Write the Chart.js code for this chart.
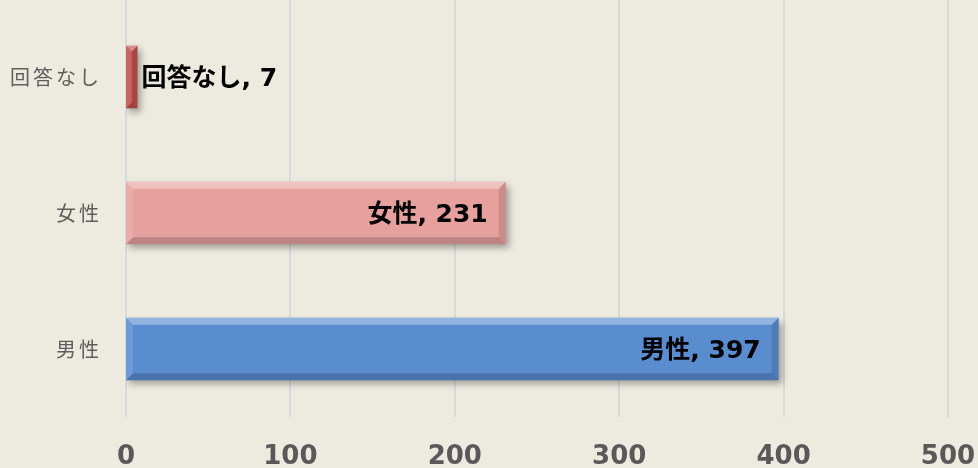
<!DOCTYPE html>
<html>
<head>
<meta charset="utf-8">
<script src="https://cdn.jsdelivr.net/npm/chart.js@4/dist/chart.umd.min.js"></script>
<style>
  html, body { margin: 0; padding: 0; background: #EDEAE0; }
  #wrap { width: 978px; height: 468px; position: relative; }
</style>
</head>
<body>
<div id="wrap"><canvas id="chart"></canvas></div>
<script>
const categories = ['回答なし', '女性', '男性'];
const counts = [7, 231, 397];
const barColors = ['#C0504D', '#E6A19F', '#5A8DD0'];
const xTicks = [0, 100, 200, 300, 400, 500];

const labelFont = 'bold 25px "DejaVu Sans", "Noto Sans CJK JP", sans-serif';

// letter spacing on the category labels only
const spacingPlugin = {
    id: 'spacing',
    beforeDraw(chart) {
        const ys = chart.scales.y;
        if (ys._spaced) return;
        const orig = ys.drawLabels;
        ys.drawLabels = function (area) {
            this.ctx.save();
            this.ctx.letterSpacing = '3px';
            orig.call(this, area);
            this.ctx.restore();
        };
        ys._spaced = true;
    }
};

// full height vertical gridlines (reference draws them up to the top edge)
const gridPlugin = {
    id: 'fullGrid',
    beforeDatasetsDraw(chart) {
        const ctx = chart.ctx;
        const xs = chart.scales.x;
        ctx.save();
        ctx.strokeStyle = '#D7D9DC';
        ctx.lineWidth = 2;
        xTicks.forEach(t => {
            const px = Math.round(xs.getPixelForValue(t));
            ctx.beginPath();
            ctx.moveTo(px, 0);
            ctx.lineTo(px, chart.chartArea.bottom);
            ctx.stroke();
        });
        ctx.restore();
    }
};

// drop shadow + bevel look on bars
const bevelPlugin = {
    id: 'bevel',
    beforeDatasetDraw(chart) {
        const ctx = chart.ctx;
        ctx.save();
        ctx.shadowColor = 'rgba(0,0,0,0.35)';
        ctx.shadowBlur = 7;
        ctx.shadowOffsetX = 3;
        ctx.shadowOffsetY = 4;
    },
    afterDatasetDraw(chart) {
        const ctx = chart.ctx;
        ctx.restore();
        chart.getDatasetMeta(0).data.forEach(el => {
            const L = el.base, R = el.x;
            const T = el.y - el.height / 2, B = el.y + el.height / 2;
            const b = Math.min(7, (R - L) / 2);
            const poly = (pts, fill) => {
                ctx.beginPath();
                ctx.moveTo(pts[0][0], pts[0][1]);
                pts.slice(1).forEach(p => ctx.lineTo(p[0], p[1]));
                ctx.closePath();
                ctx.fillStyle = fill;
                ctx.fill();
            };
            ctx.save();
            poly([[L, T], [R, T], [R - b, T + b], [L + b, T + b]], 'rgba(255,255,255,0.35)');
            poly([[L, B], [R, B], [R - b, B - b], [L + b, B - b]], 'rgba(0,0,0,0.18)');
            poly([[R, T], [R, B], [R - b, B - b], [R - b, T + b]], 'rgba(0,0,0,0.12)');
            poly([[L, T], [L + b, T + b], [L + b, B - b], [L, B]], 'rgba(255,255,255,0.12)');
            ctx.restore();
        });
    }
};

const dataLabelPlugin = {
    id: 'dataLabels',
    afterDatasetsDraw(chart) {
        const ctx = chart.ctx;
        ctx.save();
        ctx.font = labelFont;
        ctx.fillStyle = '#000';
        ctx.textBaseline = 'middle';
        chart.getDatasetMeta(0).data.forEach((el, i) => {
            const txt = categories[i] + ', ' + counts[i];
            if (counts[i] > 50) {
                ctx.textAlign = 'right';
                ctx.fillText(txt, el.x - 18, el.y + 2);
            } else {
                ctx.textAlign = 'left';
                ctx.fillText(txt, el.x + 4, el.y + 2);
            }
        });
        ctx.restore();
    }
};

new Chart(document.getElementById('chart'), {
    type: 'bar',
    data: {
        labels: categories,
        datasets: [{
            data: counts,
            backgroundColor: barColors,
            borderWidth: 0,
            categoryPercentage: 1,
            barPercentage: 0.46
        }]
    },
    options: {
        indexAxis: 'y',
        responsive: true,
        maintainAspectRatio: false,
        animation: false,
        layout: { padding: { top: 9, left: 0, right: 0, bottom: 0 } },
        plugins: { legend: { display: false }, tooltip: { enabled: false } },
        scales: {
            x: {
                min: 0,
                max: 500,
                afterBuildTicks(scale) { scale.ticks = xTicks.map(v => ({ value: v })); },
                afterFit(scale) {
                    scale.height = 51;
                    scale.paddingLeft = 0;
                    scale.paddingRight = 30;
                },
                grid: { display: false, drawTicks: false },
                border: { display: false },
                ticks: {
                    padding: 25,
                    color: '#595959',
                    font: { family: '"DejaVu Sans", sans-serif', size: 26, weight: 'bold' }
                }
            },
            y: {
                afterFit(scale) {
                    scale.width = 126;
                    scale.paddingTop = 0;
                    scale.paddingBottom = 0;
                },
                grid: { display: false, drawTicks: false },
                border: { display: false },
                ticks: {
                    padding: 24,
                    color: '#5E5E5E',
                    font: { family: '"Noto Sans CJK JP", sans-serif', size: 20 }
                }
            }
        }
    },
    plugins: [spacingPlugin, gridPlugin, bevelPlugin, dataLabelPlugin]
});
</script>
</body>
</html>
